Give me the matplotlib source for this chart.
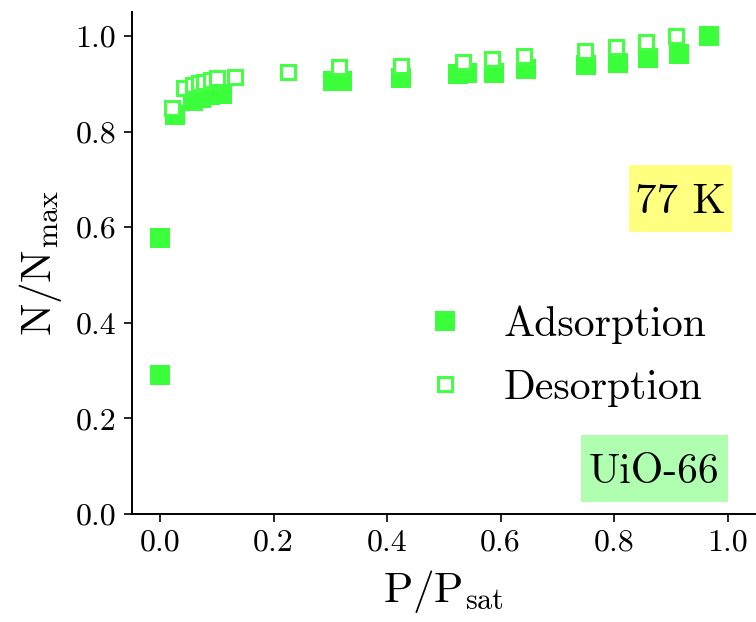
import matplotlib
matplotlib.use('Agg')
from matplotlib import rcParams
from matplotlib import pyplot as plt
from matplotlib.patches import Rectangle

# adsorption branch (filled squares)
ads_x = [0.0, 0.0, 0.026, 0.058, 0.072, 0.088, 0.100, 0.110, 0.305, 0.320, 0.424,
         0.525, 0.540, 0.588, 0.644, 0.750, 0.807, 0.859, 0.914, 0.967]
ads_y = [0.290, 0.577, 0.835, 0.864, 0.871, 0.876, 0.878, 0.879, 0.905, 0.906, 0.913,
         0.921, 0.922, 0.923, 0.930, 0.939, 0.943, 0.953, 0.962, 1.000]

# desorption branch (open squares)
des_x = [0.021, 0.043, 0.058, 0.068, 0.078, 0.090, 0.100, 0.133, 0.226, 0.316, 0.424,
         0.533, 0.585, 0.641, 0.749, 0.804, 0.857, 0.909]
des_y = [0.849, 0.891, 0.898, 0.901, 0.904, 0.908, 0.911, 0.915, 0.925, 0.936, 0.938,
         0.945, 0.951, 0.957, 0.969, 0.976, 0.987, 1.000]

xticks = [0.0, 0.2, 0.4, 0.6, 0.8, 1.0]
yticks = [0.0, 0.2, 0.4, 0.6, 0.8, 1.0]

rcParams['font.family'] = 'cmr10'
rcParams['mathtext.fontset'] = 'cm'
rcParams['axes.formatter.use_mathtext'] = True
rcParams['axes.unicode_minus'] = False

green = '#3cff3c'

fig = plt.figure(figsize=(7.56, 6.22), dpi=100)
ax = fig.add_axes([0.1741, 0.1736, 0.8259, 0.8071])

ax.plot(ads_x, ads_y, 's', ms=13.7, color=green, mec=green, mew=0, label='Adsorption')
ax.plot(des_x, des_y, 's', ms=10.5, mfc='white', mec='#44ff44', mew=2.2, label='Desorption')

ax.set_xlim(-0.05, 1.05)
ax.set_ylim(0.0, 1.05)
ax.set_xticks(xticks)
ax.set_yticks(yticks)
ax.set_xticklabels(['%.1f' % t for t in xticks])
ax.set_yticklabels(['%.1f' % t for t in yticks])

ax.spines['top'].set_visible(False)
ax.spines['right'].set_visible(False)
for s in ['left', 'bottom']:
    ax.spines[s].set_linewidth(1.4)
ax.tick_params(direction='out', length=6, width=1.2, labelsize=23, pad=5)

ax.set_xlabel(r'P/P$_{\rm sat}$', fontsize=31, labelpad=8)
ax.set_ylabel(r'N/N$_{\rm max}$', fontsize=31, labelpad=8)

# label boxes (axes coords)
ax.add_patch(Rectangle((0.797, 0.562), 0.164, 0.133, transform=ax.transAxes,
                       fc='#ffff80', ec='none', zorder=3))
ax.text(0.879, 0.600, '77 K', fontsize=31, ha='center', va='baseline',
        transform=ax.transAxes, zorder=4)
ax.add_patch(Rectangle((0.7205, 0.024), 0.234, 0.1335, transform=ax.transAxes,
                       fc='#b0ffb0', ec='none', zorder=3))
ax.text(0.8374, 0.0618, 'UiO-66', fontsize=30, ha='center', va='baseline',
        transform=ax.transAxes, zorder=4)

ax.legend(loc='upper left', bbox_to_anchor=(0.469, 0.416), frameon=False, fontsize=30,
          handlelength=1.0, handletextpad=0.9, labelspacing=0.62, borderpad=0,
          borderaxespad=0, numpoints=1)

plt.savefig('out.png', dpi=100)
